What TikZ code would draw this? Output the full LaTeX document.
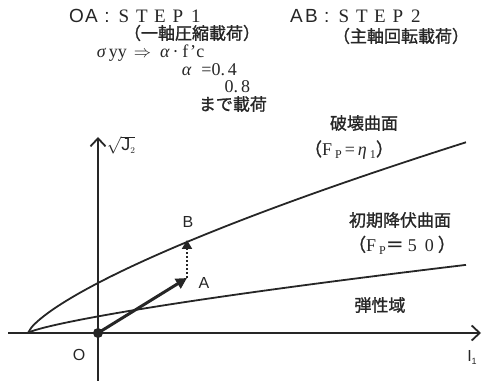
\documentclass[tikz,border=0pt]{standalone}
\usepackage{fontspec}
\setmainfont{Liberation Serif}
\newfontfamily\jp[FakeBold=1.2]{Noto Sans CJK JP}
\newfontfamily\ssf{Liberation Sans}
\usetikzlibrary{arrows.meta}
\newcommand\wc[2][18pt]{\makebox[#1]{#2}}
\begin{document}
\begin{tikzpicture}[x=1pt,y=-1pt,line width=1.8pt,draw=black!85,text=black!85,
  txt/.style={inner sep=0pt},
  jptxt/.style={inner sep=0pt,font=\jp\fontsize{17}{17}\selectfont},
  lbl/.style={inner sep=0pt,font=\ssf\fontsize{16}{16}\selectfont},
  curve/.style={line width=1.8pt},
  axis/.style={line width=1.8pt,-{Straight Barb[length=8pt,width=15pt,line width=1.8pt]}}]
\useasboundingbox (0,0) rectangle (483,385);
% header texts
\node[txt,anchor=west] (s1) at (68,16) {\fontsize{19}{19}\selectfont{\ssf\wc[15pt]{O}\wc[15pt]{A}\wc[16pt]{:}}\wc{S}\wc{T}\wc{E}\wc{P}\wc{1}};
\node[txt,anchor=west] (s2) at (288,16) {\fontsize{19}{19}\selectfont{\ssf\wc[15pt]{A}\wc[15pt]{B}\wc[16pt]{:}}\wc{S}\wc{T}\wc{E}\wc{P}\wc{2}};
\node[jptxt] (c1) at (192,33) {（一軸圧縮載荷）};
\node[jptxt] (c2) at (401,36) {（主軸回転載荷）};
\node[txt,anchor=west] (f1) at (96,53) {\fontsize{18}{18}\selectfont{\itshape σ}\,yy\hspace{7pt}$\Rightarrow$\hspace{9pt}{\itshape α}\,·\,\wc[8pt]{f}\wc[7pt]{'}c};
\node[txt,anchor=west] (f2) at (181,70) {\fontsize{18}{18}\selectfont{\itshape α}\hspace{10pt}=0.\,4};
\node[txt,anchor=east] (f3) at (251,87) {\fontsize{18}{18}\selectfont 0.\,8};
\node[jptxt,anchor=west] (f4) at (198,104) {まで載荷};
% curve labels
\node[jptxt] (h1) at (364,123) {破壊曲面};
\node[txt] (h2) at (349,150) {\fontsize{18}{18}\selectfont{\jp （}F\,\raisebox{-3pt}{\fontsize{12}{12}\selectfont P}\,=\,{\itshape η}\,\raisebox{-3pt}{\fontsize{12}{12}\selectfont 1}{\jp ）}};
\node[jptxt] (h3) at (400,220) {初期降伏曲面};
\node[txt] (h4) at (402,245) {\fontsize{18}{18}\selectfont{\jp （}F\,\raisebox{-3pt}{\fontsize{12}{12}\selectfont P}{\jp ＝}\wc[17pt]{5}\wc[17pt]{0}{\jp ）}};
\node[jptxt] (h5) at (380,305) {弾性域};
% axes
\coordinate (xs) at (8,333);
\coordinate (xe) at (481,333);
\coordinate (ys) at (98,381);
\coordinate (ye) at (98,137);
\draw[axis] (xs) -- (xe);
\draw[axis] (ys) -- (ye);
\node[lbl,anchor=west] (jl) at (106,145) {\fontsize{18}{18}\selectfont$\sqrt{\mbox{J}_{\scriptscriptstyle 2}}$};
\node[lbl] (il) at (472,357) {I\raisebox{-3pt}{\fontsize{9}{9}\selectfont 1}};
% curves
\draw[curve] plot[domain=0.001:438,samples=120,smooth] ({28+\x},{333-2.25*pow(\x,0.73)});
\draw[curve] plot[domain=0.001:438,samples=120,smooth] ({28+\x},{333-0.63*pow(\x,0.77)});
% points
\node[circle,fill=black!85,inner sep=0pt,minimum size=10pt] (O) at (98,333) {};
\coordinate (A) at (187,278);
\coordinate (B) at (187,240);
\draw[line width=3pt,-{Triangle[length=11pt,width=11pt]}] (O.center) -- (A);
\draw[line width=2pt,dotted,-{Triangle[length=9pt,width=10pt]}] (A) -- (B);
\node[lbl] (ol) at (79,355) {O};
\node[lbl] (al) at (204,283) {A};
\node[lbl] (bl) at (188,222) {B};
\end{tikzpicture}
\end{document}
